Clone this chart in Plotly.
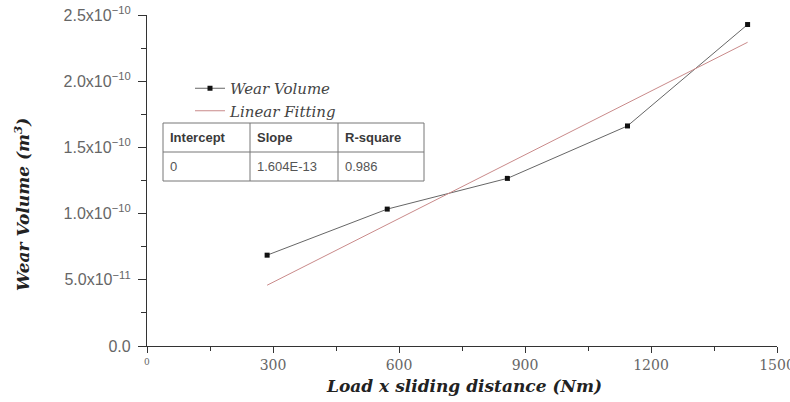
import plotly.graph_objects as go

# ---- data ----
load_distance = [286, 572, 858, 1144, 1430]
wear_volume = [6.86e-11, 1.034e-10, 1.266e-10, 1.662e-10, 2.428e-10]
fit_x = [286, 1430]
fit_y = [4.59e-11, 2.294e-10]
x_tick_vals = [0, 300, 600, 900, 1200, 1500]
x_tick_text = [" ", "300", "600", "900", "1200", "1500"]
y_tick_vals = [0, 5e-11, 1e-10, 1.5e-10, 2e-10, 2.5e-10]
y_tick_text = ["0.0", "5.0x10<sup>−11</sup>", "1.0x10<sup>−10</sup>", "1.5x10<sup>−10</sup>",
               "2.0x10<sup>−10</sup>", "2.5x10<sup>−10</sup>"]
table_header = ["Intercept", "Slope", "R-square"]
table_values = ["0", "1.604E-13", "0.986"]

W, H = 790, 402
L, R, T, B = 147, 13, 15, 56
PW, PH = W - L - R, H - T - B


def px(x):
    return (x - L) / PW


def py(y):
    return (H - B - y) / PH


fig = go.Figure()
fig.add_trace(go.Scatter(
    x=load_distance, y=wear_volume, mode="lines+markers", name="Wear Volume",
    line=dict(color="#666666", width=1),
    marker=dict(symbol="square", size=5, color="#111111"),
))
fig.add_trace(go.Scatter(
    x=fit_x, y=fit_y, mode="lines", name="Linear Fitting",
    line=dict(color="#c98a8a", width=1),
))

shapes = []
tl, tr, tt, tm, tb = 163, 424, 123, 152, 181
cols = [250, 338]
line_style = dict(color="#777777", width=1)
shapes.append(dict(type="rect", xref="paper", yref="paper", x0=px(tl), x1=px(tr),
                   y0=py(tb), y1=py(tt), line=line_style))
shapes.append(dict(type="line", xref="paper", yref="paper", x0=px(tl), x1=px(tr),
                   y0=py(tm), y1=py(tm), line=line_style))
for c in cols:
    shapes.append(dict(type="line", xref="paper", yref="paper", x0=px(c), x1=px(c),
                       y0=py(tb), y1=py(tt), line=line_style))

annotations = []
col_left = [tl, cols[0], cols[1]]
for i, (h, v) in enumerate(zip(table_header, table_values)):
    annotations.append(dict(x=px(col_left[i] + 5), y=py((tt + tm) / 2), xref="paper", yref="paper",
                            text=h, showarrow=False, xanchor="left", yanchor="middle",
                            font=dict(family="Liberation Sans, Arial", size=13, color="#3a3a3a",
                                      weight="bold")))
    annotations.append(dict(x=px(col_left[i] + 5), y=py((tm + tb) / 2), xref="paper", yref="paper",
                            text=v, showarrow=False, xanchor="left", yanchor="middle",
                            font=dict(family="Liberation Sans, Arial", size=13, color="#555555")))

annotations.append(dict(x=0, y=py(362), xref="x", yref="paper", text="0", showarrow=False,
                        xanchor="center", yanchor="middle",
                        font=dict(family="DejaVu Serif", size=9, color="#666666")))
annotations.append(dict(x=px(22), y=py(205), xref="paper", yref="paper",
                        text="Wear Volume (m<sup>3</sup>)", textangle=-90,
                        showarrow=False, xanchor="center", yanchor="middle",
                        font=dict(family="DejaVu Serif", size=17, color="#222222",
                                  weight="bold", style="italic")))
annotations.append(dict(x=px(464), y=py(386), xref="paper", yref="paper",
                        text="Load x sliding distance (Nm)",
                        showarrow=False, xanchor="center", yanchor="middle",
                        font=dict(family="DejaVu Serif", size=17, color="#222222",
                                  weight="bold", style="italic")))

fig.update_layout(
    width=W, height=H,
    margin=dict(l=L, r=R, t=T, b=B, autoexpand=False),
    paper_bgcolor="white", plot_bgcolor="white",
    showlegend=True,
    legend=dict(x=px(190), y=py(72), xanchor="left", yanchor="top",
                bgcolor="rgba(0,0,0,0)", tracegroupgap=0,
                font=dict(family="DejaVu Serif", size=15, color="#444444", style="italic")),
    shapes=shapes, annotations=annotations,
)
fig.update_xaxes(
    range=[0, 1500], tickmode="array", tickvals=x_tick_vals, ticktext=x_tick_text,
    automargin=False, ticklabeloverflow="allow",
    showgrid=False, zeroline=False, showline=True, linecolor="#333333", linewidth=1.3,
    ticks="outside", ticklen=6, tickcolor="#333333", tickwidth=1.3,
    tickfont=dict(family="DejaVu Serif", size=14, color="#666666"),
    minor=dict(ticks="outside", ticklen=4, tickcolor="#333333", tick0=0, dtick=150),
)
fig.update_yaxes(
    range=[0, 2.5e-10], tickmode="array", tickvals=y_tick_vals, ticktext=y_tick_text,
    automargin=False, ticklabeloverflow="allow", ticklabelstandoff=4,
    showgrid=False, zeroline=False, showline=True, linecolor="#333333", linewidth=1.3,
    ticks="outside", ticklen=8, tickcolor="#333333", tickwidth=1.3,
    tickfont=dict(family="Liberation Sans, Arial", size=16, color="#666666"),
    minor=dict(ticks="outside", ticklen=5, tickcolor="#333333", tick0=0, dtick=2.5e-11),
)

fig.write_html(
    "out.html",
    config={"displayModeBar": False},
    post_script="document.body.style.margin='0';document.body.style.padding='0';"
                "document.body.style.overflow='hidden';",
)
